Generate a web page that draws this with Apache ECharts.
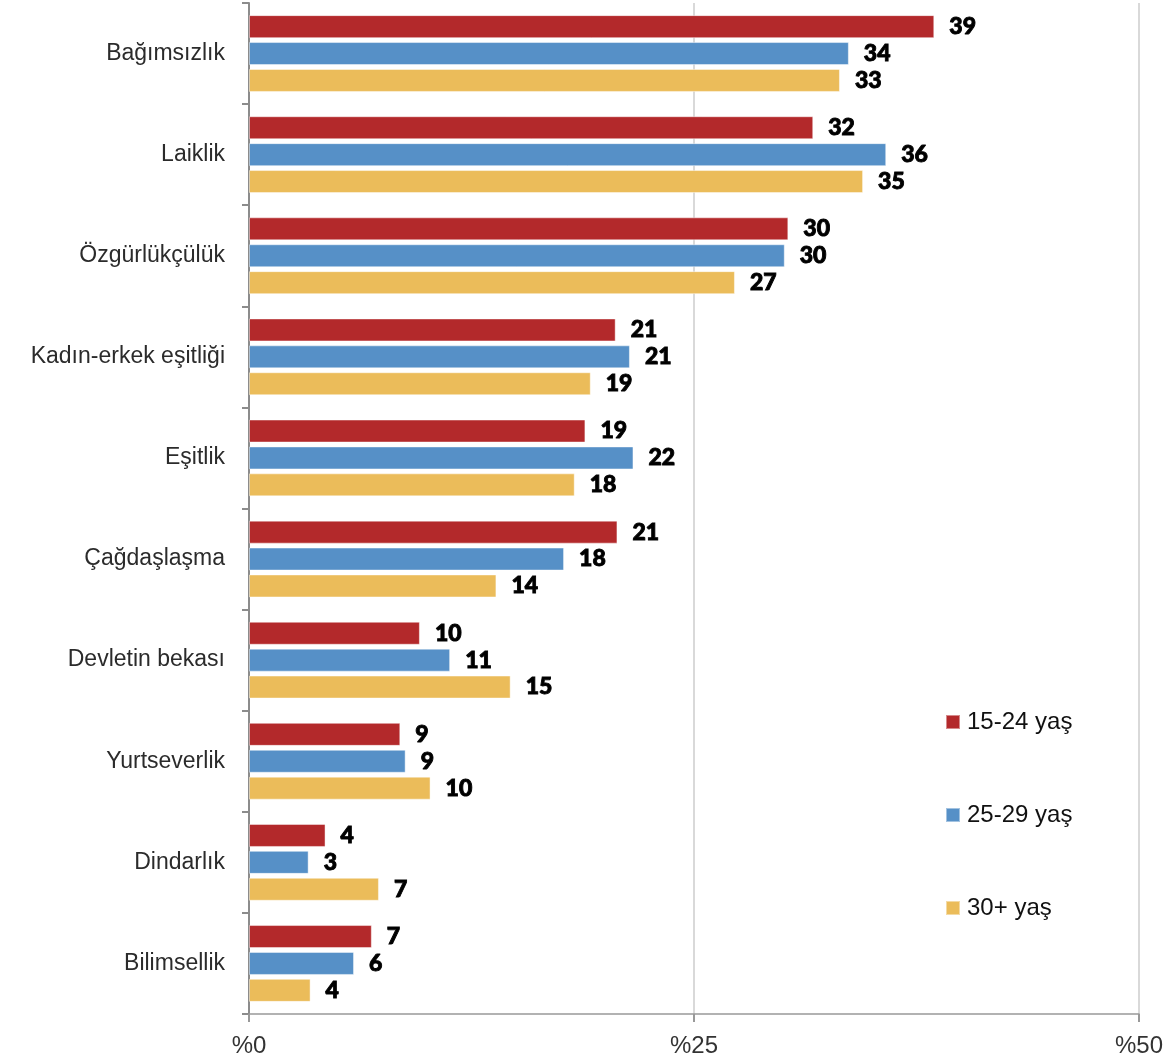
<!DOCTYPE html>
<html>
<head>
<meta charset="utf-8">
<script src="https://cdn.jsdelivr.net/npm/echarts@6/dist/echarts.min.js"></script>
<style>
html,body{margin:0;padding:0;background:#fff;}
#chart{width:1166px;height:1060px;}
</style>
</head>
<body>
<div id="chart"></div>
<script>
const categories = ["Bağımsızlık","Laiklik","Özgürlükçülük","Kadın-erkek eşitliği","Eşitlik","Çağdaşlaşma","Devletin bekası","Yurtseverlik","Dindarlık","Bilimsellik"];
const seriesNames = ["15-24 yaş","25-29 yaş","30+ yaş"];
// bar lengths as drawn
const values1524 = [38.5, 31.7, 30.3, 20.6, 18.9, 20.7, 9.6, 8.5, 4.3, 6.9];
const values2529 = [33.7, 35.8, 30.1, 21.4, 21.6, 17.7, 11.3, 8.8, 3.35, 5.9];
const values30 = [33.2, 34.5, 27.3, 19.2, 18.3, 13.9, 14.7, 10.2, 7.3, 3.46];
// printed value labels
const labels1524 = ["39","32","30","21","19","21","10","9","4","7"];
const labels2529 = ["34","36","30","21","22","18","11","9","3","6"];
const labels30 = ["33","35","27","19","18","14","15","10","7","4"];
const xTicks = [0, 25, 50];
const colors = ["#B3292B", "#5690C7", "#EBBC5A"];

const labelFont = '"Liberation Sans",Arial,sans-serif';
const numFont = 'Lato,"DejaVu Sans",sans-serif';

function makeSeries(name, vals, labs, color){
  return {
    name: name,
    type: 'bar',
    data: vals,
    barWidth: 23,
    barGap: '17%',
    itemStyle: {color: color, borderColor: 'rgba(255,255,255,0.45)', borderWidth: 1},
    label: {
      show: true,
      position: 'right',
      distance: 15,
      color: '#000',
      fontFamily: numFont,
      fontWeight: 900,
      fontSize: 23,
      textBorderColor: '#000',
      textBorderWidth: 0.9,
      formatter: function(p){ return labs[p.dataIndex]; }
    }
  };
}

const chart = echarts.init(document.getElementById('chart'), null, {renderer:'canvas'});
chart.setOption({
  animation: false,
  color: colors,
  grid: {left: 249, right: 26, top: 3, bottom: 46, containLabel: false},
  legend: {
    orient: 'vertical',
    left: 945,
    top: 710,
    padding: 0,
    itemWidth: 14,
    itemHeight: 14,
    itemGap: 69,
    icon: 'rect',
    textStyle: {fontFamily: labelFont, fontSize: 24, lineHeight: 24, color: '#111', padding: [0,0,0,2]},
    data: seriesNames
  },
  xAxis: {
    type: 'value',
    min: xTicks[0],
    max: xTicks[xTicks.length-1],
    interval: xTicks[1]-xTicks[0],
    axisLine: {show: true, lineStyle: {color: '#999', width: 1.5}},
    axisTick: {show: true, length: 8, lineStyle: {color: '#999', width: 2}},
    axisLabel: {
      fontFamily: labelFont, fontSize: 24, color: '#333', margin: 20,
      formatter: function(v){ return '%' + v; }
    },
    splitLine: {show: true, lineStyle: {color: '#d9d9d9', width: 2}}
  },
  yAxis: {
    type: 'category',
    data: categories,
    inverse: true,
    axisLine: {show: true, lineStyle: {color: '#8c8c8c', width: 2}},
    axisTick: {show: true, length: 7, lineStyle: {color: '#8c8c8c', width: 2}},
    axisLabel: {fontFamily: labelFont, fontSize: 23, color: '#2b2b2b', margin: 24},
    splitLine: {show: false}
  },
  series: [
    makeSeries(seriesNames[0], values1524, labels1524, colors[0]),
    makeSeries(seriesNames[1], values2529, labels2529, colors[1]),
    makeSeries(seriesNames[2], values30, labels30, colors[2])
  ]
});
</script>
</body>
</html>
